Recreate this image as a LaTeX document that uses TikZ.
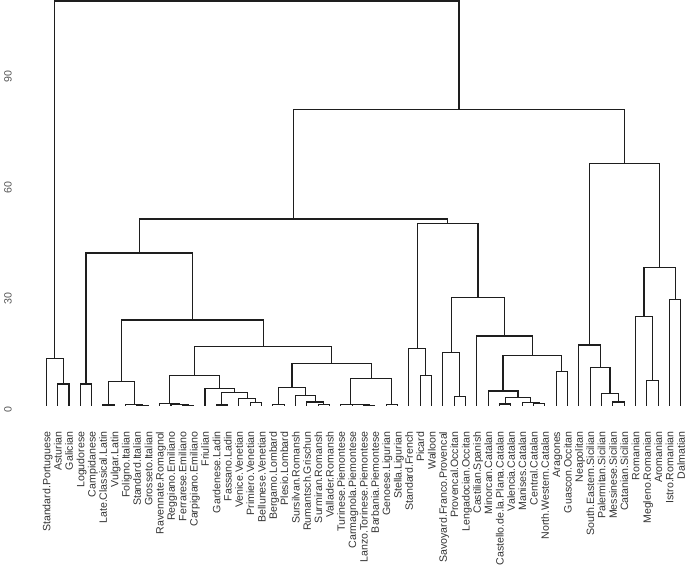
\documentclass[tikz,border=0pt]{standalone}
\usepackage{fontspec}
\setmainfont{Liberation Sans}
\usepackage{tikz}
\usetikzlibrary{calc}
\definecolor{branchgray}{HTML}{1E1E1E}
\definecolor{labgray}{HTML}{333333}
\definecolor{axgray}{HTML}{555555}
% one merge: name, left child, right child, height
\newcommand{\clu}[4]{%
  \coordinate (#1h) at (0,#4);
  \coordinate (#1m) at ($(#2)!0.5!(#3)$);
  \coordinate (#1) at (#1m |- #1h);
  \draw[branch] (#2) |- (#1) -| (#3);
}

\begin{document}
\begin{tikzpicture}[x=11.33pt,y=3.7pt,
  branch/.style={branchgray, line width=1.15pt},
  leaflab/.style={labgray, rotate=90, anchor=base east, inner sep=0pt, font=\fontsize{10.6}{12}\selectfont},
  axlab/.style={axgray, rotate=90, inner sep=0pt, font=\fontsize{10.6}{12}\selectfont}]
  \useasboundingbox (-3.086,-43.65) rectangle (57.37,109.59);

  % leaves
  \foreach \lab [count=\i] in {Standard.Portuguese, Asturian, Galician, Logudorese, Campidanese,
      Late.Classical.Latin, Vulgar.Latin, Foligno.Italian, Standard.Italian, Grosseto.Italian,
      Ravennate.Romagnol, Reggiano.Emiliano, Ferrarese.Emiliano, Carpigiano.Emiliano, Friulian,
      Gardenese.Ladin, Fassano.Ladin, Venice.Venetian, Primiero.Venetian, Bellunese.Venetian,
      Bergamo.Lombard, Plesio.Lombard, Sursilvan.Romansh, Rumantsch.Grischun, Surmiran.Romansh,
      Vallader.Romansh, Turinese.Piemontese, Carmagnola.Piemontese, Lanzo.Torinese.Piemontese,
      Barbania.Piemontese, Genoese.Ligurian, Stella.Ligurian, Standard.French, Picard, Walloon,
      Savoyard.Franco.Provencal, Provencal.Occitan, Lengadocian.Occitan, Castilian.Spanish,
      Minorcan.Catalan, Castello.de.la.Plana.Catalan, Valencia.Catalan, Manises.Catalan,
      Central.Catalan, North.Western.Catalan, Aragones, Guascon.Occitan, Neapolitan,
      South.Eastern.Sicilian, Palermitan.Sicilian, Messinese.Sicilian, Catanian.Sicilian,
      Romanian, Megleno.Romanian, Aromanian, Istro.Romanian, Dalmatian} {
    \coordinate (t\i) at (\i,0);
    \node[leaflab] (l\i) at ([xshift=4pt,yshift=-26pt]t\i) {\lab};
  }

  % height axis
  \node[axlab] (y0) at (-2.38,-1) {0};
  \node[axlab] (y30) at (-2.38,29) {30};
  \node[axlab] (y60) at (-2.38,59) {60};
  \node[axlab] (y90) at (-2.38,89) {90};

  % western Iberia, Sardinia
  \clu{astgal}{t2}{t3}{5.8}
  \clu{ibw}{t1}{astgal}{12.6}
  \clu{sard}{t4}{t5}{5.8}
  % Latin, Italian
  \clu{lat}{t6}{t7}{0.15}
  \clu{itsg}{t9}{t10}{0.1}
  \clu{it}{t8}{itsg}{0.25}
  \clu{latit}{lat}{it}{6.5}
  % Emiliano, Friulian, Ladin, Venetian
  \clu{emA}{t13}{t14}{0.05}
  \clu{emB}{t12}{emA}{0.2}
  \clu{emil}{t11}{emB}{0.6}
  \clu{lad}{t16}{t17}{0.15}
  \clu{venA}{t19}{t20}{0.8}
  \clu{ven}{t18}{venA}{1.8}
  \clu{ladven}{lad}{ven}{3.6}
  \clu{friu}{t15}{ladven}{4.5}
  \clu{ne}{emil}{friu}{8.2}
  % Lombard, Romansh, Piemontese, Ligurian
  \clu{lomb}{t21}{t22}{0.2}
  \clu{romA}{t25}{t26}{0.2}
  \clu{romB}{t24}{romA}{0.95}
  \clu{rom}{t23}{romB}{2.75}
  \clu{lomrom}{lomb}{rom}{4.9}
  \clu{piA}{t29}{t30}{0.1}
  \clu{piB}{t28}{piA}{0.2}
  \clu{pie}{t27}{piB}{0.3}
  \clu{lig}{t31}{t32}{0.2}
  \clu{nw}{pie}{lig}{7.3}
  \clu{alp}{lomrom}{nw}{11.3}
  \clu{north}{ne}{alp}{15.9}
  \clu{italo}{latit}{north}{23.1}
  \clu{sardit}{sard}{italo}{41.2}
  % Gallo-Romance, Ibero-Romance
  \clu{oil}{t34}{t35}{8.05}
  \clu{fr}{t33}{oil}{15.3}
  \clu{ocA}{t37}{t38}{2.4}
  \clu{oc}{t36}{ocA}{14.3}
  \clu{catA}{t41}{t42}{0.4}
  \clu{catB}{t44}{t45}{0.5}
  \clu{catC}{t43}{catB}{0.9}
  \clu{catD}{catA}{catC}{2.1}
  \clu{cat}{t40}{catD}{3.9}
  \clu{arag}{t46}{t47}{9.1}
  \clu{catar}{cat}{arag}{13.5}
  \clu{ibe}{t39}{catar}{18.8}
  \clu{ocib}{oc}{ibe}{29.1}
  \clu{gallo}{fr}{ocib}{49.2}
  \clu{west}{sardit}{gallo}{50.4}
  % southern Italy, Balkans
  \clu{sicA}{t51}{t52}{0.95}
  \clu{sicB}{t50}{sicA}{3.3}
  \clu{sic}{t49}{sicB}{10.2}
  \clu{south}{t48}{sic}{16.35}
  \clu{rumA}{t54}{t55}{6.8}
  \clu{rum}{t53}{rumA}{24.1}
  \clu{dal}{t56}{t57}{28.6}
  \clu{east}{rum}{dal}{37.2}
  \clu{se}{south}{east}{65.5}
  \clu{rest}{west}{se}{79.9}
  \clu{root}{ibw}{rest}{109.3}
\end{tikzpicture}
\end{document}
